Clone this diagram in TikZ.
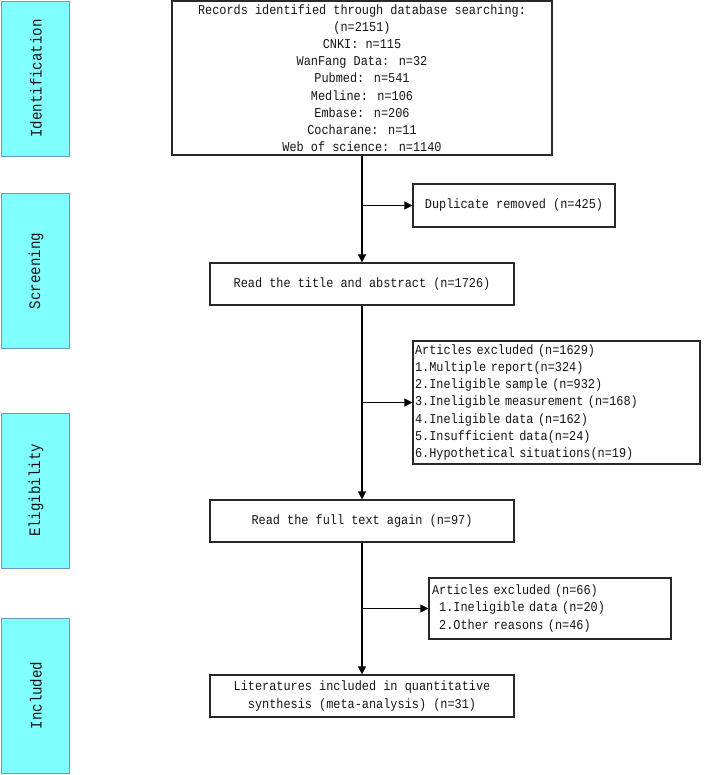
\documentclass[tikz,border=0pt]{standalone}
\usepackage{fontspec}
\newfontfamily\monofont[FakeStretch=0.88]{Liberation Mono}
\usetikzlibrary{arrows.meta}
\definecolor{phasefill}{RGB}{128,255,255}
\definecolor{phaseedge}{RGB}{112,150,200}
\definecolor{boxedge}{RGB}{40,40,40}
\definecolor{inktext}{RGB}{20,20,20}
\tikzset{
  phase/.style={draw=phaseedge, fill=phasefill, line width=0.9pt, minimum width=68pt, minimum height=155pt, inner sep=0pt},
  phasetext/.style={rotate=90, text=inktext, font=\monofont\fontsize{16}{18}\selectfont},
  stepbox/.style={draw=boxedge, text=inktext, line width=1.2pt, inner sep=0pt, align=center, font=\monofont\fontsize{13.5}{17.2}\selectfont},
  leftbox/.style={draw=boxedge, text=inktext, line width=1.2pt, inner ysep=0pt, align=left, font=\monofont\fontsize{13.5}{17.2}\selectfont},
  flow/.style={line width=1.2pt, -{Triangle[length=8pt,width=8pt]}}
}
\begin{document}
\begin{tikzpicture}[x=1pt,y=-1pt]
\useasboundingbox (0,0) rectangle (708,775);
% phase labels
\node[phase] (ident) at (35,78.5) {};
\node[phasetext] (identt) at (36,78.5) {Identification};
\node[phase] (scr) at (35,271) {};
\node[phasetext] (scrt) at (36,271) {Screening};
\node[phase] (elig) at (35,490.5) {};
\node[phasetext] (eligt) at (36,490.5) {Eligibility};
\node[phase] (incl) at (35,695.5) {};
\node[phasetext] (inclt) at (36,695.5) {Included};
% main boxes
\node[stepbox, minimum width=380pt, minimum height=154pt] (rec) at (362,78) {Records identified through database searching:\\(n=2151)\\CNKI: n=115\\WanFang Data: n=32\\Pubmed: n=541\\Medline: n=106\\Embase: n=206\\Cocharane: n=11\\Web of science: n=1140};
\node[stepbox, minimum width=202pt, minimum height=43pt] (dup) at (514,205.5) {Duplicate removed (n=425)};
\node[stepbox, minimum width=304pt, minimum height=42pt] (title) at (362,284) {Read the title and abstract (n=1726)};
\node[leftbox, inner xsep=2pt, text width=283pt, minimum height=123pt] (exc1) at (556.5,402.5) {Articles excluded (n=1629)\\1.Multiple report(n=324)\\2.Ineligible sample (n=932)\\3.Ineligible measurement (n=168)\\4.Ineligible data (n=162)\\5.Insufficient data(n=24)\\6.Hypothetical situations(n=19)};
\node[stepbox, minimum width=304pt, minimum height=42pt] (full) at (362,521) {Read the full text again (n=97)};
\node[leftbox, inner xsep=3pt, text width=236pt, minimum height=61pt] (exc2) at (550,608.5) {Articles excluded (n=66)\\\phantom{x}1.Ineligible data (n=20)\\\phantom{x}2.Other reasons (n=46)};
\node[stepbox, minimum width=304pt, minimum height=42pt] (lit) at (362,696) {Literatures included in quantitative\\synthesis (meta-analysis) (n=31)};
% branch points
\coordinate (b1) at (362,205.5);
\coordinate (b2) at (362,402.5);
\coordinate (b3) at (362,608.5);
% connectors
\draw[flow] (rec.south) -- (title.north);
\draw[flow] (b1) -- (dup.west);
\draw[flow] (title.south) -- (full.north);
\draw[flow] (b2) -- (exc1.west);
\draw[flow] (full.south) -- (lit.north);
\draw[flow] (b3) -- (exc2.west);
\end{tikzpicture}
\end{document}
